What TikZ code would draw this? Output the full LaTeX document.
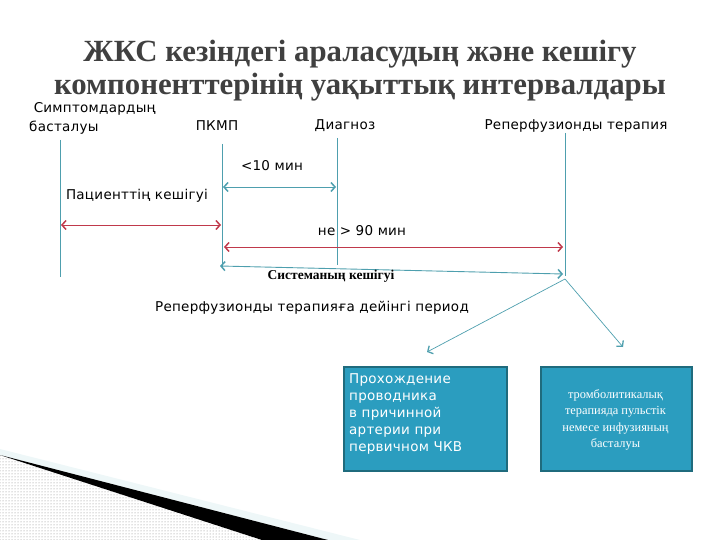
\documentclass[tikz,border=0pt]{standalone}
\usepackage{fontspec}
\setmainfont{Liberation Serif}
\newfontfamily\dv[LetterSpace=2]{DejaVu Sans}
\usetikzlibrary{arrows.meta,patterns}
\definecolor{teal1}{HTML}{4E9FAE}
\definecolor{red1}{HTML}{C0394B}
\definecolor{boxfill}{HTML}{2B9DBF}
\definecolor{boxedge}{HTML}{1F6B7D}
\definecolor{titlegray}{HTML}{404040}
\definecolor{lightband}{HTML}{EEF7F8}
\tikzset{
  vline/.style={draw=teal1, line width=0.9pt},
  tarrow/.style={draw=teal1, line width=0.9pt, {Straight Barb[length=4pt,width=9pt,line width=1.5pt]}-{Straight Barb[length=4pt,width=9pt,line width=1.5pt]}},
  rarrow/.style={draw=red1, line width=0.9pt, {Straight Barb[length=4pt,width=9pt,line width=1.5pt]}-{Straight Barb[length=4pt,width=9pt,line width=1.5pt]}},
  oarrow/.style={draw=teal1, line width=0.7pt, -{Straight Barb[length=4pt,width=9pt,line width=1.3pt]}},
  lbl/.style={font=\dv\fontsize{13.5}{19}\selectfont, inner sep=0pt, text=black},
  bigbox/.style={draw=boxedge, line width=2pt, fill=boxfill, text=white, minimum width=163pt, minimum height=104pt, inner sep=0pt},
}
\begin{document}
\begin{tikzpicture}[x=1pt,y=-1pt]
\useasboundingbox (0,0) rectangle (720,540);
% decorative bottom-left corner
\fill[lightband] (0,449) -- (360,540) -- (328,540) -- (0,455) -- cycle;
\fill[pattern=dots, pattern color=gray] (0,455) -- (262,540) -- (0,540) -- cycle;
\fill[black] (0,455) -- (328,540) -- (262,540) -- cycle;
% title
\node[font=\bfseries\fontsize{30.8}{33}\selectfont, text=titlegray, align=center, inner sep=0pt] (title) at (360,70.5)
  {ЖКС кезіндегі араласудың және кешігу\\компоненттерінің уақыттық интервалдары};
% column labels
\node[lbl, align=left, anchor=west] (l1) at (29,118.5) {\ Симптомдардың\\басталуы};
\node[lbl] (l2) at (217,126) {ПКМП};
\node[lbl] (l3) at (345,126) {Диагноз};
\node[lbl] (l4) at (576,126) {Реперфузионды терапия};
% vertical lines
\coordinate (a1) at (60,140); \coordinate (a2) at (60,277);
\coordinate (b1) at (222,144); \coordinate (b2) at (222,268);
\coordinate (c1) at (337,138); \coordinate (c2) at (337,265);
\coordinate (d1) at (565,133); \coordinate (d2) at (565,276);
\draw[vline] (a1) -- (a2);
\draw[vline] (b1) -- (b2);
\draw[vline] (c1) -- (c2);
\draw[vline] (d1) -- (d2);
% intervals
\node[lbl] (t10) at (272,166) {<10 мин};
\coordinate (p1) at (223,187); \coordinate (p2) at (336,187);
\draw[tarrow] (p1) -- (p2);
\node[lbl] (pat) at (137,196) {Пациенттің кешігуі};
\coordinate (q1) at (61,225); \coordinate (q2) at (221,225);
\draw[rarrow] (q1) -- (q2);
\node[lbl] (t90) at (362,231) {не > 90 мин};
\coordinate (r1) at (224,247); \coordinate (r2) at (563,247);
\draw[rarrow] (r1) -- (r2);
\coordinate (s1) at (220,266); \coordinate (s2) at (563,274);
\draw[tarrow] (s1) -- (s2);
\node[font=\bfseries\fontsize{13.5}{15}\selectfont, inner sep=0pt] (sys) at (331,276) {Системаның кешігуі};
\node[lbl] (per) at (312,308) {Реперфузионды терапияға дейінгі период};
% boxes
\node[bigbox, anchor=north west] (box1) at (343,366) {};
\node[font=\dv\fontsize{13.5}{17}\selectfont, text=white, align=left, anchor=north west, inner sep=0pt] (box1t) at (349,373)
  {Прохождение\\проводника\\в причинной\\артерии при\\первичном ЧКВ};
\node[bigbox, minimum width=151pt, anchor=north west] (box2) at (540,366) {};
\node[font=\fontsize{12.4}{16.3}\selectfont, text=white, align=center, inner sep=0pt] (box2t) at (615.5,420)
  {тромболитикалық\\терапияда пульстік\\немесе инфузияның\\басталуы};
% branching arrows
\coordinate (o) at (565,279);
\coordinate (e1) at (427,352);
\coordinate (e2) at (623,347);
\draw[oarrow] (o) -- (e1);
\draw[oarrow] (o) -- (e2);
\end{tikzpicture}
\end{document}
